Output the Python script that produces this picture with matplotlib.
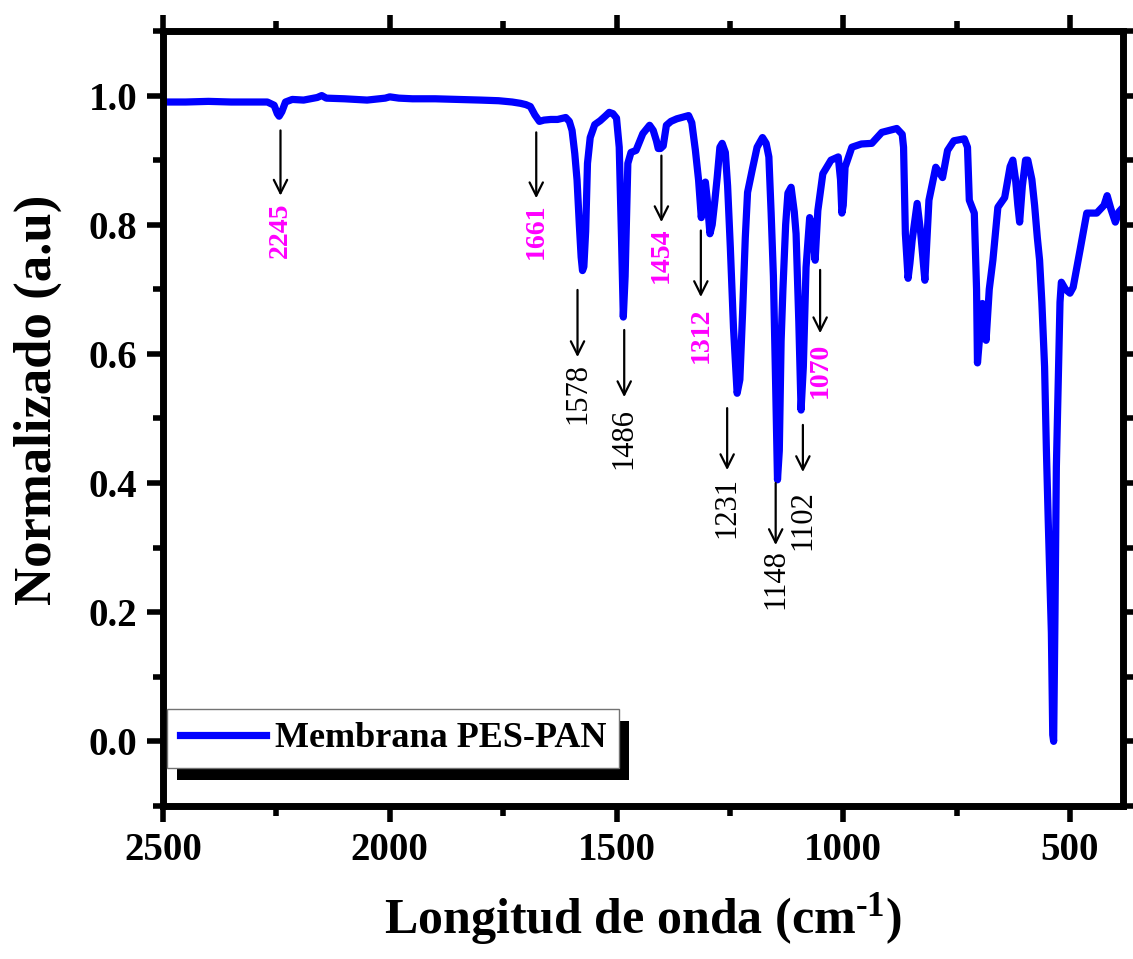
import matplotlib
matplotlib.use("Agg")
import matplotlib.pyplot as plt
from matplotlib.ticker import MultipleLocator, FormatStrFormatter
from matplotlib.patches import Rectangle

# FTIR spectrum of the PES-PAN membrane (normalized)
wavenumber = [
    2500, 2450, 2400, 2350, 2300, 2270, 2255, 2248, 2244, 2238, 2230, 2215, 2190, 2160, 2150,
    2140, 2100, 2050, 2010, 2000, 1980, 1950, 1900, 1850, 1800, 1760, 1730, 1712, 1700, 1690,
    1680, 1670, 1660, 1645, 1630, 1612, 1604, 1598, 1592, 1587, 1582, 1578, 1575, 1572, 1568,
    1564, 1558, 1548, 1536, 1525, 1516, 1508, 1500, 1494, 1489, 1485, 1481, 1475, 1468, 1457,
    1442, 1427, 1419, 1412, 1408, 1403, 1397, 1390, 1380, 1367, 1341, 1334, 1326, 1319, 1313,
    1309, 1304, 1300, 1294, 1289, 1283, 1278, 1272, 1267, 1260, 1255, 1249, 1242, 1234, 1228,
    1222, 1216, 1211, 1201, 1190, 1178, 1170, 1164, 1159, 1154, 1149, 1145, 1141, 1137, 1133,
    1127, 1122, 1115, 1108, 1104, 1098, 1093, 1088, 1082, 1074, 1067, 1062, 1056, 1045, 1027,
    1011, 1006, 1003, 1000, 996, 981, 960, 937, 915, 882, 870, 867, 863, 857, 853,
    848, 837, 829, 820, 811, 796, 781, 770, 756, 733, 726, 722, 711, 706, 704,
    700, 693, 688, 685, 678, 670, 659, 644, 632, 626, 620, 615, 611, 605, 598,
    593, 584, 578, 572, 567, 562, 556, 552, 548, 544, 541, 538, 536, 533, 530,
    526, 522, 519, 510, 500, 493, 478, 463, 441, 425, 418, 410, 400, 392, 383,
]
intensity = [
    0.990, 0.990, 0.991, 0.990, 0.990, 0.990, 0.985, 0.972, 0.968, 0.975, 0.990, 0.994, 0.993, 0.997, 1.000,
    0.996, 0.995, 0.993, 0.996, 0.998, 0.996, 0.995, 0.995, 0.994, 0.993, 0.992, 0.990, 0.988, 0.986, 0.983,
    0.970, 0.960, 0.962, 0.963, 0.963, 0.966, 0.960, 0.946, 0.910, 0.869, 0.800, 0.750, 0.729, 0.735, 0.790,
    0.895, 0.935, 0.955, 0.961, 0.968, 0.974, 0.972, 0.965, 0.920, 0.780, 0.657, 0.720, 0.895, 0.912, 0.915,
    0.941, 0.954, 0.946, 0.930, 0.918, 0.918, 0.922, 0.954, 0.960, 0.964, 0.969, 0.958, 0.915, 0.869, 0.811,
    0.840, 0.866, 0.840, 0.786, 0.800, 0.838, 0.873, 0.920, 0.926, 0.912, 0.860, 0.765, 0.640, 0.539, 0.560,
    0.663, 0.780, 0.850, 0.884, 0.920, 0.935, 0.926, 0.905, 0.818, 0.720, 0.550, 0.405, 0.450, 0.620, 0.700,
    0.800, 0.849, 0.858, 0.820, 0.786, 0.650, 0.513, 0.580, 0.734, 0.811, 0.786, 0.745, 0.822, 0.879, 0.900,
    0.905, 0.870, 0.818, 0.830, 0.889, 0.920, 0.925, 0.926, 0.943, 0.949, 0.940, 0.920, 0.786, 0.717, 0.740,
    0.776, 0.833, 0.786, 0.714, 0.838, 0.889, 0.873, 0.915, 0.930, 0.933, 0.920, 0.838, 0.818, 0.700, 0.586,
    0.620, 0.678, 0.660, 0.621, 0.700, 0.745, 0.827, 0.842, 0.890, 0.900, 0.870, 0.830, 0.804, 0.860, 0.900,
    0.900, 0.870, 0.830, 0.780, 0.745, 0.680, 0.580, 0.451, 0.343, 0.246, 0.168, 0.010, 0.000, 0.200, 0.425,
    0.550, 0.680, 0.711, 0.700, 0.694, 0.703, 0.760, 0.818, 0.818, 0.830, 0.845, 0.825, 0.804, 0.820, 0.827,
]

# band labels and where their arrows sit (x, arrow start, arrow tip, label top)
band_labels = ["2245", "1661", "1578", "1486", "1454", "1312", "1231", "1148", "1102", "1070"]
band_x = [2241, 1677, 1586, 1483, 1401, 1314, 1256, 1149, 1089, 1051]
arrow_start = [0.946, 0.943, 0.699, 0.637, 0.907, 0.791, 0.516, 0.400, 0.490, 0.730]
arrow_tip = [0.845, 0.841, 0.595, 0.533, 0.804, 0.688, 0.420, 0.304, 0.417, 0.632]
label_top = [0.835, 0.833, 0.586, 0.516, 0.796, 0.672, 0.410, 0.297, 0.389, 0.617]
highlight = [True, True, False, False, True, True, False, False, False, True]

plt.rcParams["font.family"] = ["Liberation Serif", "DejaVu Serif"]
plt.rcParams["font.weight"] = "bold"
plt.rcParams["mathtext.fontset"] = "custom"
plt.rcParams["mathtext.rm"] = "Liberation Serif:bold"
plt.rcParams["mathtext.default"] = "rm"

fig = plt.figure(figsize=(11.33, 9.59), dpi=100)
ax = fig.add_axes([0.1439, 0.1596, 0.8473, 0.8081])

ax.plot(wavenumber, intensity, color="#0000ff", lw=5.2, solid_joinstyle="round",
        label="Membrana PES-PAN")

for lab, x, y0, y1, yt, hl in zip(band_labels, band_x, arrow_start, arrow_tip, label_top, highlight):
    ax.annotate("", xy=(x, y1), xytext=(x, y0),
                arrowprops=dict(arrowstyle="->", color="k", lw=1.6,
                                mutation_scale=24, shrinkA=0, shrinkB=0))
    if hl:
        ax.text(x, yt, lab, rotation=90, ha="center", va="top",
                color="#ff00ff", fontsize=20, fontweight="bold")
    else:
        ax.text(x, yt, lab, rotation=90, ha="center", va="top",
                color="k", fontsize=22, fontweight="normal")

ax.set_xlim(2500, 383)
ax.set_ylim(-0.1, 1.1)
ax.xaxis.set_major_locator(MultipleLocator(500))
ax.xaxis.set_minor_locator(MultipleLocator(250))
ax.yaxis.set_major_locator(MultipleLocator(0.2))
ax.yaxis.set_minor_locator(MultipleLocator(0.1))
ax.yaxis.set_major_formatter(FormatStrFormatter("%.1f"))

for sp in ax.spines.values():
    sp.set_linewidth(5)
ax.tick_params(which="both", direction="out", top=True, right=True, width=4)
ax.tick_params(which="major", length=11.5, pad=7, labelsize=28)
ax.tick_params(which="minor", length=7)

ax.set_xlabel("Longitud de onda (cm$^{\\text{-1}}$)", fontsize=36, fontweight="bold")
ax.set_ylabel("Normalizado (a.u)", fontsize=38, fontweight="bold")
ax.xaxis.set_label_coords(0.5, -0.11)
ax.yaxis.set_label_coords(-0.105, 0.524)

leg = ax.legend(loc="lower left", bbox_to_anchor=(0.004, 0.049), borderaxespad=0,
                fancybox=False, framealpha=1, edgecolor="0.45",
                prop={"size": 26, "weight": "bold"},
                handlelength=2.4, handletextpad=0.25, borderpad=0.35)
leg.get_frame().set_linewidth(1)

# solid black drop shadow behind the legend box
fig.canvas.draw()
bb = leg.get_window_extent().transformed(ax.transAxes.inverted())
shadow = Rectangle((bb.x0 + 10 / 960, bb.y0 - 12 / 775), bb.width, bb.height,
                   transform=ax.transAxes, facecolor="k", edgecolor="none",
                   zorder=leg.get_zorder() - 0.1, clip_on=False)
ax.add_patch(shadow)

fig.savefig("out.png", dpi=100)
